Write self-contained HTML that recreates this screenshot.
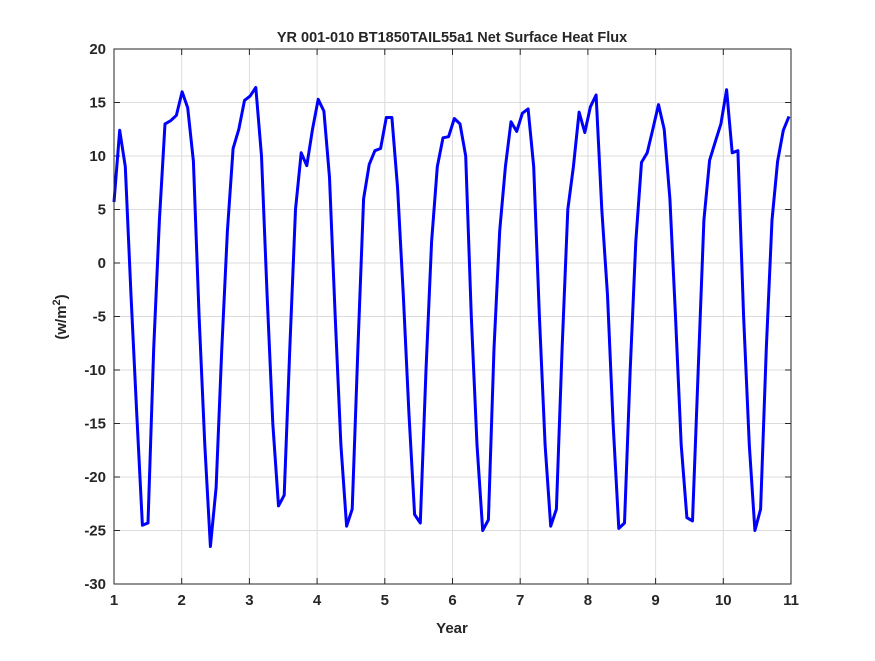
<!DOCTYPE html>
<html><head><meta charset="utf-8"><style>
body{margin:0;background:#fff;}
svg text{font-family:"Liberation Sans","DejaVu Sans",sans-serif;font-weight:bold;fill:#262626;}
</style></head><body>
<svg id="chart" width="875" height="656" xmlns="http://www.w3.org/2000/svg">
<rect width="875" height="656" fill="#fff"/>
<text x="452" y="42" font-size="14.5" text-anchor="middle">YR 001-010 BT1850TAIL55a1 Net Surface Heat Flux</text>
<text x="452" y="633" font-size="15" text-anchor="middle">Year</text>
<text transform="translate(66,317) rotate(-90)" font-size="15" text-anchor="middle">(w/m<tspan dy="-6" font-size="11">2</tspan><tspan dy="6">)</tspan></text>
<g id="grid"></g>
<g id="ticks"></g>
<g id="series"></g>
<rect x="114" y="49" width="677" height="535" fill="none" stroke="#262626" stroke-width="1"/>
</svg>
<script>
const xTicks=[1,2,3,4,5,6,7,8,9,10,11];
const yTicks=[20,15,10,5,0,-5,-10,-15,-20,-25,-30];
const flux=[5.7,12.4,9,-3,-14,-24.5,-24.3,-8,4,13,13.3,13.8,
16,14.5,9.5,-5,-17,-26.5,-21,-8,3,10.7,12.5,15.2,
15.6,16.4,10,-3,-15,-22.7,-21.7,-8,5,10.3,9.1,12.5,
15.3,14.2,8,-5,-17,-24.6,-23,-8,6,9.2,10.5,10.7,
13.6,13.6,7,-3,-14,-23.5,-24.3,-10,2,9,11.7,11.8,
13.5,13,10,-5,-17,-25,-24,-8,3,9,13.2,12.3,
14,14.4,9,-5,-17,-24.6,-23,-8,5,9,14.1,12.2,
14.6,15.7,5,-3,-15,-24.8,-24.3,-10,2,9.4,10.3,12.5,
14.8,12.5,6,-5,-17,-23.8,-24.1,-10,4,9.6,11.3,13,
16.2,10.3,10.5,-5,-17,-25,-23,-8,4,9.5,12.4,13.7];
const L=114,R=791,T=49,B=584;
const xs=v=>L+(v-1)/10*(R-L);
const ys=v=>T+(20-v)/50*(B-T);
const NS="http://www.w3.org/2000/svg";
const mk=(t,a,p)=>{const e=document.createElementNS(NS,t);for(const k in a)e.setAttribute(k,a[k]);p.appendChild(e);return e;};
const grid=document.getElementById('grid'),ticks=document.getElementById('ticks'),series=document.getElementById('series');
xTicks.forEach(v=>{
 const x=xs(v);
 const g=mk('line',{x1:x,x2:x,y1:T,y2:B,stroke:'#dcdcdc','stroke-width':1},grid);
 
 
 mk('line',{x1:x,x2:x,y1:B,y2:B-6,stroke:'#262626'},ticks);
 mk('line',{x1:x,x2:x,y1:T,y2:T+6,stroke:'#262626'},ticks);
 const t=mk('text',{x:x,y:B+21,'font-size':15,'text-anchor':'middle'},ticks);
 t.textContent=v;
 
 
});
yTicks.forEach(v=>{
 const y=ys(v);
 const g=mk('line',{x1:L,x2:R,y1:y,y2:y,stroke:'#dcdcdc','stroke-width':1},grid);
 
 
 mk('line',{x1:L,x2:L+6,y1:y,y2:y,stroke:'#262626'},ticks);
 mk('line',{x1:R,x2:R-6,y1:y,y2:y,stroke:'#262626'},ticks);
 const t=mk('text',{x:L-8,y:y+5,'font-size':15,'text-anchor':'end'},ticks);
 t.textContent=v;
 
 
});
const step=9.97/(flux.length-1);
const pts=flux.map((v,i)=>xs(1+i*step).toFixed(1)+','+ys(v).toFixed(1)).join(' ');
const pl=mk('polyline',{points:pts,fill:'none',stroke:'#0000ff','stroke-width':3,'stroke-linejoin':'round'},series);


</script>
</body></html>
